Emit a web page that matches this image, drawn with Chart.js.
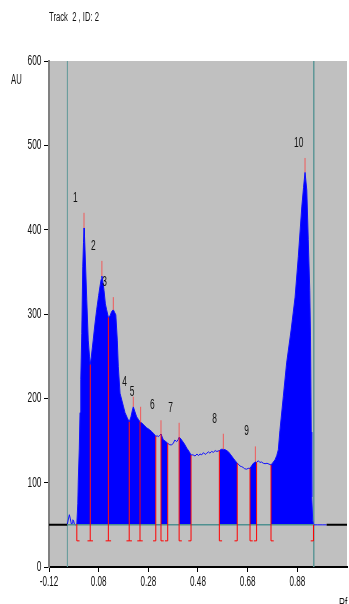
<!DOCTYPE html>
<html>
<head>
<meta charset="utf-8">
<script src="https://cdn.jsdelivr.net/npm/chart.js@4.4.0/dist/chart.umd.min.js"></script>
<style>
    html, body { margin: 0; padding: 0; background: #fff; }
    #wrap { width: 349px; height: 604px; }
</style>
</head>
<body>
<div id="wrap"><canvas id="scan" width="349" height="604"></canvas></div>
<script>
// Densitogram trace (Rf vs AU)
const rf = [-0.052, -0.046, -0.041, -0.038, -0.034, -0.030, -0.027, -0.024, -0.021, -0.018, -0.014,
    -0.008, -0.004, -0.002, 0.002, 0.005, 0.008, 0.012, 0.016, 0.019, 0.021, 0.023, 0.025, 0.032, 0.038,
    0.043, 0.046, 0.050, 0.058, 0.065, 0.072, 0.080, 0.085, 0.090, 0.093, 0.096, 0.1015, 0.107, 0.112,
    0.119, 0.126, 0.1325, 0.139, 0.144, 0.149, 0.155, 0.159, 0.166, 0.173, 0.180, 0.186, 0.195, 0.203,
    0.210, 0.216, 0.2195, 0.226, 0.233, 0.240, 0.2465, 0.253, 0.263, 0.2735, 0.284, 0.294, 0.302, 0.310,
    0.316, 0.320, 0.326, 0.331, 0.336, 0.340, 0.349, 0.358, 0.366, 0.374, 0.381, 0.387, 0.394, 0.400,
    0.404, 0.408, 0.414, 0.425, 0.435, 0.444, 0.452, 0.460, 0.468, 0.476, 0.482, 0.488, 0.495, 0.502,
    0.509, 0.515, 0.522, 0.528, 0.535, 0.542, 0.549, 0.556, 0.566, 0.574, 0.582, 0.590, 0.602, 0.612,
    0.622, 0.630, 0.638, 0.646, 0.650, 0.656, 0.662, 0.668, 0.676, 0.682, 0.6895, 0.696, 0.703, 0.708,
    0.711, 0.716, 0.723, 0.729, 0.736, 0.743, 0.750, 0.758, 0.766, 0.774, 0.782, 0.790, 0.797, 0.8035,
    0.810, 0.8236, 0.837, 0.855, 0.871, 0.884, 0.898, 0.905, 0.911, 0.918, 0.924, 0.930, 0.933, 0.936,
    0.938, 0.942, 0.945, 0.960, 0.980, 0.998];
const au = [50, 51, 58, 62, 57, 51, 52, 56, 55, 51, 50,
    51, 75, 103, 140, 183, 222, 277, 356, 385, 402, 392, 376, 317, 269,
    250, 240, 248, 269, 288, 305, 322, 332, 341, 345, 340, 328, 312, 305,
    296, 298, 303, 305, 302, 299, 269, 238, 206, 198, 190, 183, 177, 172,
    178, 186, 190, 184, 178, 175, 172, 171, 168, 165, 163, 160.5, 158, 155,
    155.5, 154.6, 156, 157.7, 154, 151, 149, 146.7, 145, 144.7, 147, 150.6, 148.6, 151,
    153.8, 153, 150.6, 146, 140.8, 137, 132.8, 133, 131.6, 134, 132, 134, 133, 135.6,
    133.5, 134.8, 136.5, 135, 137, 136, 138, 137, 138, 139.5, 139.6, 139, 136.8, 133,
    129, 126, 123, 121, 119.5, 119, 118, 116.5, 116, 117, 117, 120, 123, 124,
    125, 124, 126, 124, 124.5, 123, 122.5, 123, 122, 121, 124, 127, 132, 139,
    162, 202, 242, 281, 320, 368, 427, 450, 468, 447, 388, 328, 275, 160,
    83, 55, 50, 50, 50, 50];

// Integrated peaks
const peakNo = ['1', '2', '3', '4', '5', '6', '7', '8', '9', '10'];
const peakStart = [-0.008, 0.046, 0.119, 0.203, 0.2465, 0.331, 0.404, 0.566, 0.6895, 0.774];
const peakEnd = [0.046, 0.119, 0.203, 0.2465, 0.310, 0.358, 0.452, 0.638, 0.716, 0.945];
const peakMax = [0.021, 0.093, 0.139, 0.2195, 0.249, 0.331, 0.404, 0.582, 0.711, 0.911];
const peakTip = [420, 363, 320, 202, 190, 174, 171, 158, 143, 485];

const baseAU = 50;       // integration baseline
const markAU = 31;       // foot of the red peak markers
const trackStart = -0.046;
const trackEnd = 0.946;
const dataEnd = 0.998;

const xTicks = [-0.12, 0.08, 0.28, 0.48, 0.68, 0.88];
const yTicks = [0, 100, 200, 300, 400, 500, 600];

const FONT = '"Liberation Sans", Arial, sans-serif';

function auAt(x) {
    for (let i = 1; i < rf.length; i++) {
        if (x <= rf[i]) {
            const t = (x - rf[i - 1]) / (rf[i] - rf[i - 1]);
            return au[i - 1] + t * (au[i] - au[i - 1]);
        }
    }
    return au[au.length - 1];
}

// narrow old-style text: normal font squeezed horizontally
function squeezeText(ctx, text, x, y, align, size, sx, baseline) {
    ctx.save();
    ctx.font = size + 'px ' + FONT;
    ctx.fillStyle = '#111';
    ctx.textAlign = align;
    ctx.textBaseline = baseline || 'middle';
    ctx.translate(x, y);
    ctx.scale(sx, 1);
    ctx.fillText(text, 0, 0);
    ctx.restore();
}

function buildDatasets() {
    const sets = [];

    // blue filled area of each peak
    for (let i = 0; i < peakNo.length; i++) {
        const pts = [];
        rf.forEach((r, k) => {
            if (r >= peakStart[i] - 1e-9 && r <= peakEnd[i] + 1e-9) pts.push({ x: r, y: au[k] });
        });
        sets.push({
            data: pts, borderColor: 'rgba(0,0,0,0)', borderWidth: 1,
            backgroundColor: '#0000ff', fill: { value: baseAU }, order: 5
        });
    }

    // trace line
    sets.push({
        data: rf.map((r, k) => ({ x: r, y: au[k] })),
        borderColor: '#1010ff', borderWidth: 1, fill: false, order: 3
    });

    // track limits (vertical)
    sets.push({
        data: [{ x: trackStart, y: 0 }, { x: trackStart, y: 600 }, { x: trackStart, y: null },
            { x: trackEnd, y: 600 }, { x: trackEnd, y: 0 }],
        borderColor: '#5f9898', borderWidth: 1, fill: false, order: 6
    });

    // baseline: teal inside the track, black outside
    sets.push({
        data: [{ x: trackStart, y: baseAU }, { x: trackEnd, y: baseAU }],
        borderColor: '#4f9090', borderWidth: 1.5, fill: false, order: 2
    });
    sets.push({
        data: [{ x: -0.12, y: baseAU }, { x: trackStart, y: baseAU }, { x: trackStart, y: null },
            { x: dataEnd, y: baseAU }, { x: 1.08, y: baseAU }],
        borderColor: '#000', borderWidth: 2, fill: false, order: 2
    });

    // red boundary lines with feet
    const bounds = [];
    const feet = [];
    for (let i = 0; i < peakNo.length; i++) {
        [peakStart[i], peakEnd[i]].forEach(b => {
            if (!bounds.includes(b)) bounds.push(b);
        });
        feet.push({ x: peakStart[i], y: markAU }, { x: peakStart[i] + 0.011, y: markAU }, { x: peakStart[i], y: null });
        feet.push({ x: peakEnd[i] - 0.011, y: markAU }, { x: peakEnd[i], y: markAU }, { x: peakEnd[i], y: null });
    }
    const boundPts = [];
    bounds.forEach(b => {
        boundPts.push({ x: b, y: markAU }, { x: b, y: auAt(b) }, { x: b, y: null });
    });
    sets.push({ data: boundPts, borderColor: '#ff0000', borderWidth: 1, fill: false, order: 0 });
    sets.push({ data: feet, borderColor: '#ff0000', borderWidth: 1, fill: false, order: 0 });

    // peak maximum markers
    const tipPts = [];
    for (let i = 0; i < peakNo.length; i++) {
        tipPts.push({ x: peakMax[i], y: auAt(peakMax[i]) }, { x: peakMax[i], y: peakTip[i] }, { x: peakMax[i], y: null });
    }
    sets.push({ data: tipPts, borderColor: '#f05a5a', borderWidth: 1, fill: false, order: 0 });

    return sets;
}

const decorPlugin = {
    id: 'decor',
    beforeDraw(chart) {
        const { ctx, chartArea: a } = chart;
        ctx.save();
        ctx.fillStyle = '#fff';
        ctx.fillRect(0, 0, chart.width, chart.height);
        ctx.fillStyle = '#c0c0c0';
        ctx.fillRect(a.left, a.top, a.right - a.left, a.bottom - a.top);
        ctx.restore();
    },
    afterDraw(chart) {
        const { ctx } = chart;
        const xs = chart.scales.x;
        const ys = chart.scales.y;

        squeezeText(ctx, 'Track  2 , ID: 2', 49, 18, 'left', 12, 0.64);
        squeezeText(ctx, 'AU', 11, 80, 'left', 14, 0.55);
        squeezeText(ctx, 'Rf', 339, 597, 'left', 14, 0.6, 'top');

        yTicks.forEach(v => {
            squeezeText(ctx, String(v), 41.5, ys.getPixelForValue(v), 'right', 14, 0.6);
        });
        xTicks.forEach(v => {
            squeezeText(ctx, v.toFixed(2), xs.getPixelForValue(v), 582, 'center', 14, 0.58);
        });

        // peak numbers sit up-left of each marker tip
        for (let i = 0; i < peakNo.length; i++) {
            squeezeText(ctx, peakNo[i], xs.getPixelForValue(peakMax[i]) - 11,
                ys.getPixelForValue(peakTip[i]) - 15, 'left', 14, 0.6);
        }
    }
};

function initChart() {
    const ctx = document.getElementById('scan').getContext('2d');

    new Chart(ctx, {
        type: 'line',
        data: { datasets: buildDatasets() },
        options: {
            responsive: false,
            animation: false,
            events: [],
            layout: { padding: { left: 0, top: 61, right: 2, bottom: 0 } },
            elements: { point: { radius: 0 }, line: { tension: 0 } },
            plugins: { legend: { display: false }, tooltip: { enabled: false } },
            scales: {
                x: {
                    type: 'linear',
                    min: -0.12,
                    max: 1.08,
                    afterBuildTicks: (s) => { s.ticks = xTicks.map(v => ({ value: v })); },
                    afterFit: (s) => { s.height = 37; },
                    ticks: { display: false },
                    grid: { drawOnChartArea: false, drawTicks: true, tickLength: 5, color: '#000' },
                    border: { color: '#000', width: 2 }
                },
                y: {
                    min: 0,
                    max: 600,
                    afterBuildTicks: (s) => { s.ticks = yTicks.map(v => ({ value: v })); },
                    afterFit: (s) => { s.width = 49; },
                    ticks: { display: false },
                    grid: { drawOnChartArea: false, drawTicks: true, tickLength: 5, color: '#000' },
                    border: { color: '#808080', width: 2 }
                }
            }
        },
        plugins: [decorPlugin]
    });
}

document.addEventListener('DOMContentLoaded', initChart);
</script>
</body>
</html>
